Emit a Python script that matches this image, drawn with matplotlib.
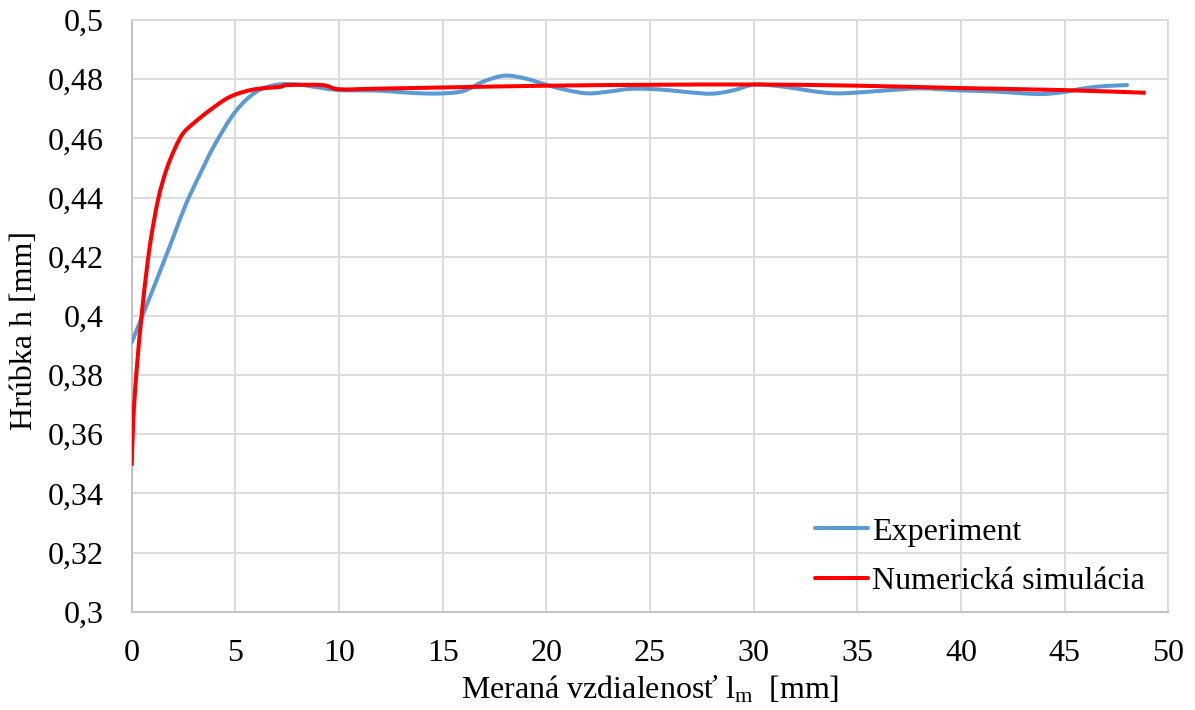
import matplotlib
matplotlib.use("Agg")
import matplotlib.pyplot as plt
from matplotlib.path import Path
from matplotlib.patches import PathPatch
from matplotlib.lines import Line2D

# Measured thickness along the part (experiment)
exp_x = [0, 1, 2, 2.6, 3.3, 4, 5, 6, 7, 8, 9, 10, 11, 12, 13, 14, 15, 16, 17, 18, 19,
         20, 21, 22, 23, 24, 25, 26, 27, 28, 29, 30, 31, 32, 33, 34, 35, 36, 37, 38,
         39, 40, 41, 42, 43, 44, 45, 46, 47, 48]
exp_h = [0.391, 0.4085, 0.4265, 0.4375, 0.448, 0.4578, 0.4690, 0.4757, 0.4781, 0.4782,
         0.4772, 0.4763, 0.4762, 0.4761, 0.4756, 0.4752, 0.4752, 0.4760, 0.4793, 0.4812,
         0.4802, 0.4781, 0.4763, 0.4752, 0.4758, 0.4767, 0.4767, 0.4762, 0.4755, 0.4751,
         0.4762, 0.4782, 0.4778, 0.4769, 0.4758, 0.4752, 0.4755, 0.4760, 0.4765, 0.4769,
         0.4766, 0.4762, 0.4760, 0.4757, 0.4752, 0.4750, 0.4757, 0.4770, 0.4777, 0.4780]

# Numerical simulation
sim_x = [0, 0.08, 0.23, 0.52, 0.87, 1.27, 1.67, 2.1, 2.48, 3.0, 3.77, 4.73, 5.86, 7.15,
         7.5, 9.2, 10.0, 11.9, 15, 20, 25, 30, 35, 40, 45, 48.9]
sim_h = [0.3493, 0.365, 0.381, 0.403, 0.4234, 0.4392, 0.4493, 0.4568, 0.4617, 0.4652,
         0.4695, 0.4740, 0.4765, 0.4774, 0.4780, 0.4780, 0.4766, 0.4768, 0.4772, 0.4778,
         0.4781, 0.4782, 0.4778, 0.4770, 0.4763, 0.4754]

x_ticks = [0, 5, 10, 15, 20, 25, 30, 35, 40, 45, 50]
y_ticks = [0.30, 0.32, 0.34, 0.36, 0.38, 0.40, 0.42, 0.44, 0.46, 0.48, 0.50]
y_tick_labels = ["0,3", "0,32", "0,34", "0,36", "0,38", "0,4", "0,42", "0,44", "0,46", "0,48", "0,5"]

plt.rcParams["font.family"] = ["Liberation Serif", "DejaVu Serif"]
plt.rcParams["mathtext.fontset"] = "custom"
plt.rcParams["mathtext.rm"] = "Liberation Serif"
plt.rcParams["mathtext.it"] = "Liberation Serif:italic"

FS = 23


def smooth_path(xs, ys):
    """Cubic Bezier path through the points (Catmull-Rom style smoothed line)."""
    n = len(xs)
    verts = [(xs[0], ys[0])]
    codes = [Path.MOVETO]
    for i in range(n - 1):
        x0, y0 = (xs[i - 1], ys[i - 1]) if i > 0 else (xs[i], ys[i])
        x1, y1 = xs[i], ys[i]
        x2, y2 = xs[i + 1], ys[i + 1]
        x3, y3 = (xs[i + 2], ys[i + 2]) if i + 2 < n else (x2, y2)
        c1 = (x1 + (x2 - x0) / 6.0, y1 + (y2 - y0) / 6.0)
        c2 = (x2 - (x3 - x1) / 6.0, y2 - (y3 - y1) / 6.0)
        verts += [c1, c2, (x2, y2)]
        codes += [Path.CURVE4] * 3
    return Path(verts, codes)


fig = plt.figure(figsize=(11.95, 7.1), dpi=100)
ax = fig.add_axes([0.1102, 0.1385, 0.9778 - 0.1102, 0.9718 - 0.1385])

grid_c = "#D9D9D9"
ax.set_xlim(0, 50)
ax.set_ylim(0.3, 0.5)
ax.set_xticks(x_ticks)
ax.set_yticks(y_ticks)
ax.set_yticklabels(y_tick_labels)
ax.grid(True, color=grid_c, linewidth=1.3)
ax.set_axisbelow(True)
for s in ax.spines.values():
    s.set_color(grid_c)
    s.set_linewidth(1.3)
ax.spines["left"].set_color("#BFBFBF")
ax.spines["bottom"].set_color("#BFBFBF")
ax.tick_params(length=0, labelsize=FS, colors="black")
ax.tick_params(axis="y", pad=20)
ax.tick_params(axis="x", pad=20)

exp_color = "#5B9BD5"
sim_color = "#FF0000"
lw = 2.9

ax.add_patch(PathPatch(smooth_path(exp_x, exp_h), facecolor="none", edgecolor=exp_color,
                       linewidth=lw, joinstyle="round", capstyle="round", zorder=3))
ax.add_patch(PathPatch(smooth_path(sim_x, sim_h), facecolor="none", edgecolor=sim_color,
                       linewidth=lw, joinstyle="round", capstyle="butt", zorder=4))

ax.set_xlabel("Meraná vzdialenosť l$_\\mathrm{m}$  [mm]", fontsize=FS, labelpad=4)
ax.set_ylabel("Hrúbka h [mm]", fontsize=FS)
ax.yaxis.set_label_coords(-0.103, 0.476)
ax.yaxis.label.set_va("center")

handles = [Line2D([], [], color=exp_color, linewidth=lw, solid_capstyle="round"),
           Line2D([], [], color=sim_color, linewidth=lw, solid_capstyle="round")]
ax.legend(handles, ["Experiment", "Numerická simulácia"], loc="lower right", frameon=False,
          fontsize=FS, handlelength=1.65, handletextpad=0.15, labelspacing=0.62,
          borderaxespad=0.1, bbox_to_anchor=(0.993, 0.0))

fig.savefig("out.png", dpi=100)
